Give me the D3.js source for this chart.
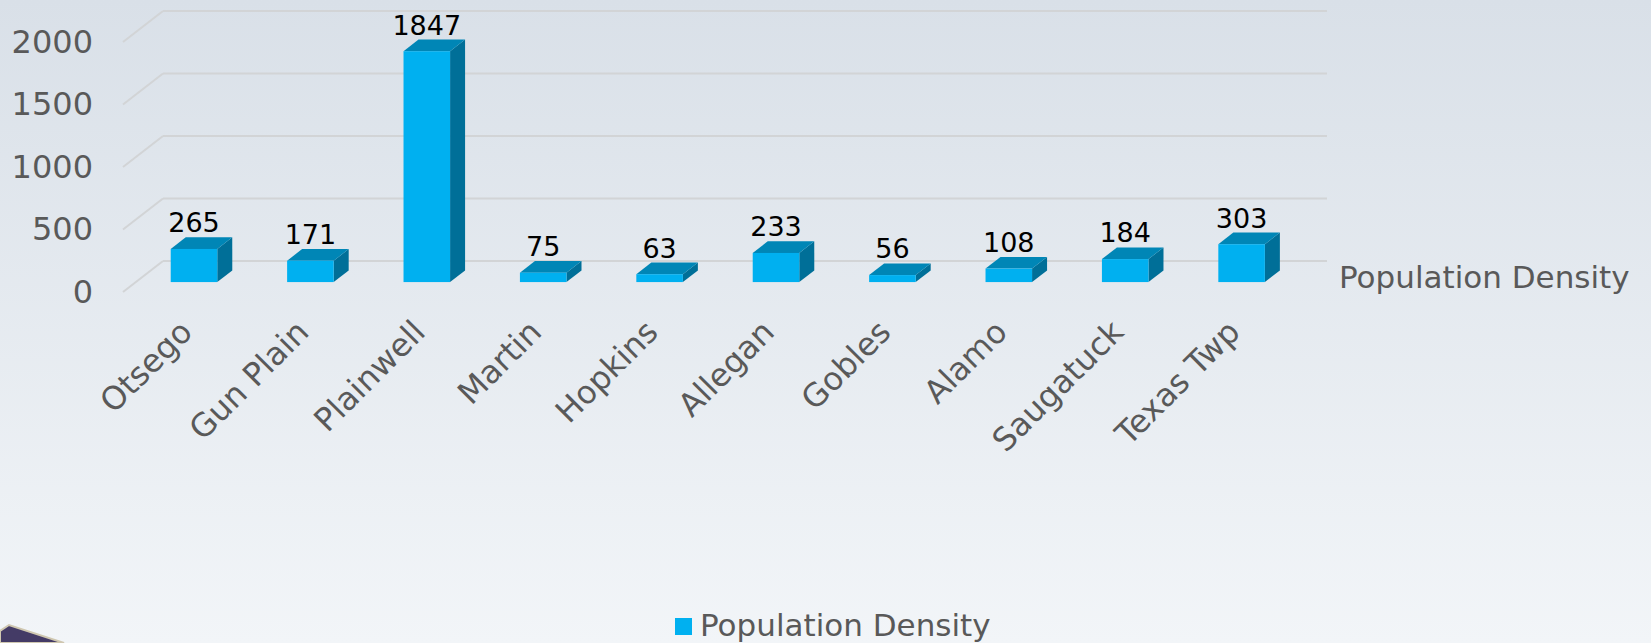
<!DOCTYPE html>
<html>
<head>
<meta charset="utf-8">
<script src="https://cdn.jsdelivr.net/npm/d3@7"></script>
<style>
  html, body { margin: 0; padding: 0; }
  body { width: 1651px; height: 643px; overflow: hidden; }
  svg text { font-family: Verdana, "DejaVu Sans", sans-serif; }
</style>
</head>
<body>
<svg id="chart" width="1651" height="643"></svg>
<script>
// data
const categories = ['Otsego', 'Gun Plain', 'Plainwell', 'Martin', 'Hopkins', 'Allegan', 'Gobles', 'Alamo', 'Saugatuck', 'Texas Twp'];
const density = [265, 171, 1847, 75, 63, 233, 56, 108, 184, 303];
const yTicks = [0, 500, 1000, 1500, 2000];
const seriesName = 'Population Density';

const svg = d3.select('#chart');

// background gradient
const defs = svg.append('defs');
const grad = defs.append('linearGradient').attr('id', 'bg').attr('x1', 0).attr('y1', 0).attr('x2', 0).attr('y2', 1);
grad.append('stop').attr('offset', '0%').attr('stop-color', '#d9e0e8');
grad.append('stop').attr('offset', '100%').attr('stop-color', '#f2f5f8');
svg.append('rect').attr('width', 1651).attr('height', 643).attr('fill', 'url(#bg)');

// bit of the photo behind the chart, bottom left
svg.append('polygon')
    .attr('points', '0,631 9,625 64,643 0,643')
    .attr('fill', '#443b66').attr('stroke', '#cfc7b0').attr('stroke-width', 2);

// front plane scales, the back wall is shifted by depth
const depth = { dx: 40, dy: -31 };
const x = d3.scaleBand().domain(categories).range([123, 1287]);
const xBar = d3.scaleBand().domain(categories).range([123, 1287]).paddingInner(0.6).paddingOuter(0.3);
const y = d3.scaleLinear().domain([0, 2000]).range([292, 42]);

// gridlines: back wall + side wall diagonal
const grid = svg.append('g');
yTicks.forEach(t => {
    grid.append('line')
        .attr('x1', x.range()[0] + depth.dx).attr('x2', x.range()[1] + depth.dx)
        .attr('y1', y(t) + depth.dy).attr('y2', y(t) + depth.dy)
        .attr('stroke', '#d2d4d6').attr('stroke-width', 2);
    grid.append('line')
        .attr('x1', x.range()[0]).attr('x2', x.range()[0] + depth.dx)
        .attr('y1', y(t)).attr('y2', y(t) + depth.dy)
        .attr('stroke', '#d2d4d6').attr('stroke-width', 2);
});

// y axis
const yAxis = svg.append('g').attr('transform', 'translate(95,0)')
    .call(d3.axisLeft(y).tickValues(yTicks).tickFormat(d3.format('d')).tickSize(0).tickPadding(2));
yAxis.select('.domain').remove();
yAxis.selectAll('text').attr('font-size', 32).attr('fill', '#595959')
    .style('font-family', 'Verdana, "DejaVu Sans", sans-serif');

// x axis labels, rotated
const xAxis = svg.append('g').attr('transform', 'translate(0,292)')
    .call(d3.axisBottom(x).tickSize(0));
xAxis.select('.domain').remove();
xAxis.selectAll('text')
    .attr('y', 0).attr('dy', 0)
    .attr('text-anchor', 'end')
    .attr('transform', 'translate(13,42) rotate(-45)')
    .attr('font-size', 32).attr('fill', '#595959')
    .style('font-family', 'Verdana, "DejaVu Sans", sans-serif');

// 3d bars
const f0 = 0.32, bd = 0.375;   // bar front depth and bar thickness (fractions of depth)
const ox = depth.dx * f0, oy = depth.dy * f0;
const bx = depth.dx * bd, by = depth.dy * bd;
const bw = xBar.bandwidth();

const bars = svg.selectAll('g.bar').data(categories).enter().append('g').attr('class', 'bar');
bars.each(function (c, i) {
    const g = d3.select(this);
    const x0 = xBar(c) + ox;
    const yt = y(density[i]) + oy;
    const yb = y(0) + oy;
    g.append('polygon')
        .attr('points', [[x0 + bw, yt], [x0 + bw + bx, yt + by], [x0 + bw + bx, yb + by], [x0 + bw, yb]].join(' '))
        .attr('fill', '#006f98');
    g.append('polygon')
        .attr('points', [[x0, yt], [x0 + bx, yt + by], [x0 + bw + bx, yt + by], [x0 + bw, yt]].join(' '))
        .attr('fill', '#0086b6');
    g.append('rect')
        .attr('x', x0).attr('y', yt).attr('width', bw).attr('height', yb - yt)
        .attr('fill', '#00b0f0');
    g.append('text')
        .attr('x', x0 + bw / 2).attr('y', yt + by - 5)
        .attr('text-anchor', 'middle')
        .attr('font-size', 27).attr('fill', '#000')
        .text(density[i]);
});

// series name on the depth axis
svg.append('text')
    .attr('x', 1339).attr('y', 288)
    .attr('font-size', 31).attr('fill', '#595959')
    .text(seriesName);

// legend
svg.append('rect').attr('x', 675).attr('y', 618).attr('width', 17).attr('height', 17).attr('fill', '#00b0f0');
svg.append('text')
    .attr('x', 700).attr('y', 636)
    .attr('font-size', 31).attr('fill', '#595959')
    .text(seriesName);
</script>
</body>
</html>
